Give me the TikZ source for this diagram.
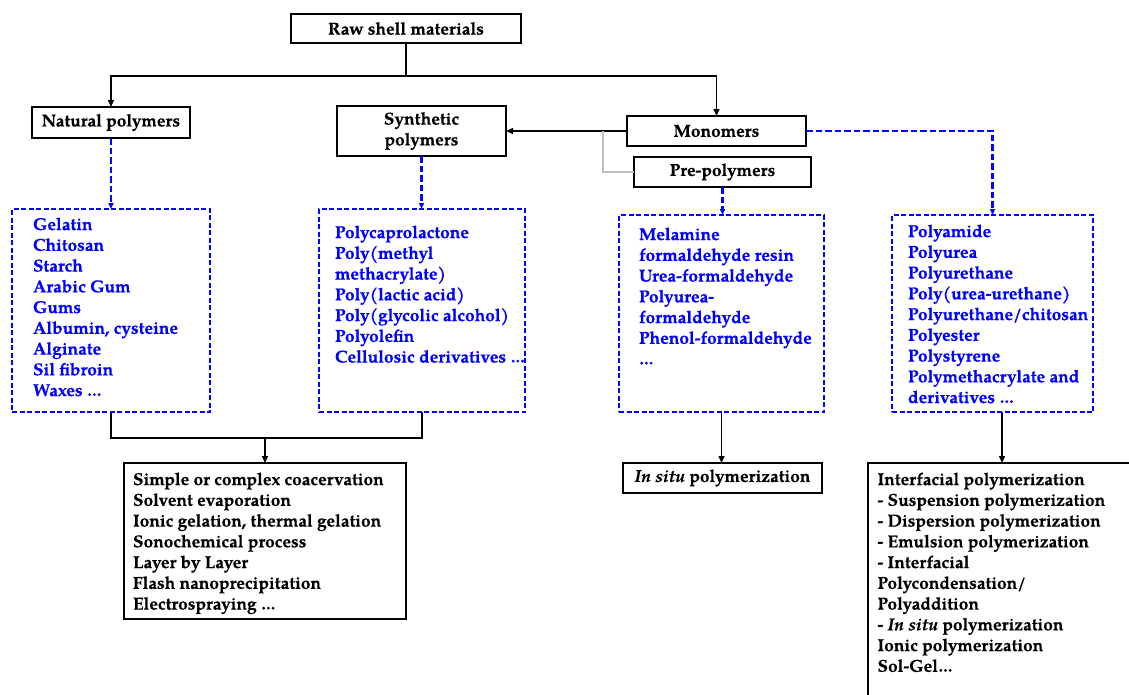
\documentclass[tikz,border=0pt]{standalone}
\usepackage{fontspec}
\setmainfont{TeX Gyre Pagella}[BoldFeatures={FakeBold=0.4},BoldItalicFeatures={FakeBold=0.4}]
\usetikzlibrary{arrows.meta}
\definecolor{lblue}{RGB}{0,0,255}
\definecolor{lgray}{RGB}{190,190,190}
\newcommand{\tfont}{\fontsize{17.3}{20.75}\selectfont\bfseries}
\begin{document}
\begin{tikzpicture}[x=1pt,y=-1pt,
  every node/.style={inner sep=0pt, outer sep=0pt},
  bbox/.style={draw=black, line width=1.6pt, font=\tfont, align=center},
  dbox/.style={draw=lblue, line width=1.5pt, dash pattern=on 5pt off 2.5pt},
  blist/.style={anchor=north west, align=left, text=lblue, font=\tfont},
  klist/.style={anchor=north west, align=left, text=black, font=\tfont},
  conn/.style={draw=black, line width=1.4pt},
  arr/.style={conn, -{Triangle[length=7pt,width=6pt]}},
  darr/.style={draw=lblue, line width=2.1pt, dash pattern=on 6.5pt off 3pt, -{Triangle[length=6pt,width=5pt]}},
  gconn/.style={draw=lgray, line width=1.3pt}
]
\useasboundingbox (0,0) rectangle (1129,694);
\clip (0,0) rectangle (1129,694);
\fill[white] (0,0) rectangle (1129,694);

% top level boxes
\node[bbox, minimum width=230pt, minimum height=29pt] (raw) at (406,28.5) {Raw shell materials};
\node[bbox, minimum width=158pt, minimum height=31pt] (nat) at (111,122.5) {Natural polymers};
\node[bbox, minimum width=169pt, minimum height=50pt] (syn) at (421.5,131) {Synthetic\\polymers};
\node[bbox, minimum width=179pt, minimum height=30pt] (mono) at (716.5,131) {Monomers};
\node[bbox, minimum width=177pt, minimum height=30pt] (pre) at (722.5,172) {Pre-polymers};

% dashed list boxes
\node[dbox, minimum width=198pt, minimum height=203pt] (natlist) at (111,310.5) {};
\node[dbox, minimum width=206pt, minimum height=203pt] (synlist) at (422,310.5) {};
\node[dbox, minimum width=205pt, minimum height=197pt] (mellist) at (721.5,313.5) {};
\node[dbox, minimum width=201pt, minimum height=197pt] (amlist) at (992.5,313.5) {};

\node[blist] (nattext) at (33,215.5) {\strut Gelatin\\Chitosan\\Starch\\Arabic Gum\\Gums\\Albumin, cysteine\\Alginate\\Sil fibroin\\Waxes …};
\node[blist] (syntext) at (335,223.5) {\strut Polycaprolactone\\Poly(methyl\\methacrylate)\\Poly(lactic acid)\\Poly(glycolic alcohol)\\Polyolefin\\Cellulosic derivatives …};
\node[blist] (meltext) at (639,225.5) {\strut Melamine\\formaldehyde resin\\Urea-formaldehyde\\Polyurea-\\formaldehyde\\Phenol-formaldehyde\\…};
\node[blist] (amtext) at (908,222.5) {\strut Polyamide\\Polyurea\\Polyurethane\\Poly(urea-urethane)\\Polyurethane/chitosan\\Polyester\\Polystyrene\\Polymethacrylate and\\derivatives …};

% method boxes
\node[bbox, minimum width=282pt, minimum height=156pt] (meth) at (265,541) {};
\node[klist] (methtext) at (133,470.5) {\strut Simple or complex coacervation\\Solvent evaporation\\Ionic gelation, thermal gelation\\Sonochemical process\\Layer by Layer\\Flash nanoprecipitation\\Electrospraying …};
\node[bbox, minimum width=199pt, minimum height=30pt] (insitu) at (722.5,478) {\textit{In situ} polymerization};
\node[bbox, minimum width=268pt, minimum height=262pt] (interf) at (1002,594) {};
\node[klist] (interftext) at (877.5,470.5) {\strut Interfacial polymerization\\- Suspension polymerization\\- Dispersion polymerization\\- Emulsion polymerization\\- Interfacial\\Polycondensation/\\Polyaddition\\- \textit{In situ} polymerization\\Ionic polymerization\\Sol-Gel…};

% connectors
\coordinate (j1) at (406,76);
\draw[conn] (raw.south) -- (j1);
\draw[arr] (j1) -| (nat.north);
\draw[arr] (j1) -| (mono.north);
\draw[arr] (mono.west) -- (syn.east);
\coordinate (g1) at (603,131);
\draw[gconn] (g1) |- (pre.west);
\draw[darr] (mono.east) -| (amlist.north);
\draw[darr] (nat.south) -- (natlist.north);
\draw[darr] (syn.south) -- (syn.south |- synlist.north);
\draw[darr] (pre.south) -- (pre.south |- mellist.north);

\coordinate (bj) at (265,438);
\draw[conn] (natlist.south) |- (bj) -| (synlist.south);
\draw[arr] (bj) -- (meth.north);
\draw[arr] (mellist.south) -- (mellist.south |- insitu.north);
\draw[arr] (interf.north |- amlist.south) -- (interf.north);
\end{tikzpicture}
\end{document}
